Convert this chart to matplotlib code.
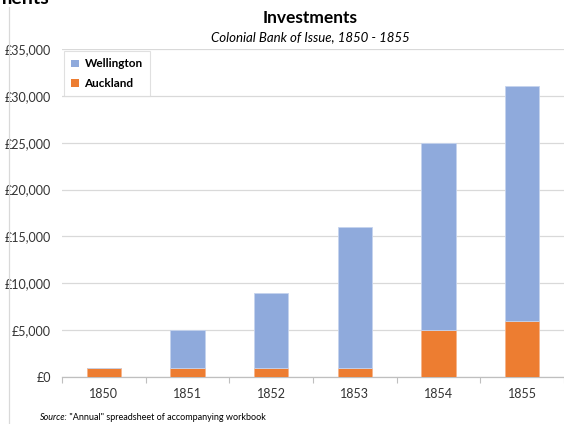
import numpy as np
import matplotlib
matplotlib.use("Agg")
import matplotlib.pyplot as plt
from matplotlib.patches import Patch
from matplotlib.ticker import FuncFormatter, MultipleLocator
from matplotlib.lines import Line2D

YEARS = ["1850", "1851", "1852", "1853", "1854", "1855"]
AUCKLAND = [1000, 1000, 1000, 1000, 5000, 6000]
WELLINGTON = [0, 4000, 8000, 15000, 20000, 25000]

COLOR_WEL = "#8FAADC"
COLOR_AUK = "#ED7D31"

plt.rcParams["font.family"] = ["Lato", "DejaVu Sans"]

W, H = 564, 424
fig = plt.figure(figsize=(W / 100, H / 100), dpi=100)

left, right, bottom, top = 62, 564, 377, 49
ax = fig.add_axes([left / W, (H - bottom) / H, (right - left) / W, (bottom - top) / H])

x = np.arange(len(YEARS))
bw = 0.41
ax.bar(x, AUCKLAND, bw, color=COLOR_AUK, edgecolor="#F6B48A", linewidth=0.6, zorder=3)
ax.bar(x, WELLINGTON, bw, bottom=AUCKLAND, color=COLOR_WEL, edgecolor="#C5D3EE",
       linewidth=0.6, zorder=3)

ax.set_xlim(-0.5, -0.5 + (right - left) / 84.8)
ax.set_ylim(0, 35000)
ax.yaxis.set_major_locator(MultipleLocator(5000))
ax.yaxis.set_major_formatter(FuncFormatter(lambda v, p: "£{:,.0f}".format(v)))
ax.grid(axis="y", color="#D9D9D9", linewidth=0.9, zorder=0)

ax.set_xticks(x)
ax.set_xticklabels(YEARS)
ax.set_xticks(np.arange(-0.5, 6, 1), minor=True)
ax.tick_params(axis="x", which="major", length=0, pad=8, labelsize=9, colors="#333333")
ax.tick_params(axis="x", which="minor", length=4, color="#BFBFBF", width=0.8)
ax.tick_params(axis="y", length=0, pad=8, labelsize=9, colors="#333333")
for s in ["top", "right", "left"]:
    ax.spines[s].set_visible(False)
ax.spines["bottom"].set_color("#BFBFBF")
ax.spines["bottom"].set_linewidth(0.9)

handles = [Patch(facecolor=COLOR_WEL, label="Wellington"),
           Patch(facecolor=COLOR_AUK, label="Auckland")]
leg = ax.legend(handles=handles, loc="upper left", bbox_to_anchor=(0.0, 1.0),
                frameon=True, fancybox=False, fontsize=8.5, handlelength=0.6,
                handleheight=0.6, handletextpad=0.5, labelspacing=0.75,
                borderpad=0.6, borderaxespad=0.2)
leg.get_frame().set_edgecolor("#D9D9D9")
leg.get_frame().set_linewidth(0.8)
for t in leg.get_texts():
    t.set_fontweight("bold")

cx = (left + right) / 2 / W
fig.text(cx - 0.005, 1 - 18 / H, "Investments", ha="center", va="center",
         fontsize=12.5, fontweight="bold")
fig.text(cx - 0.005, 1 - 37 / H, "Colonial Bank of Issue, 1850 - 1855", ha="center",
         va="center", fontsize=9.5, style="italic")

fig.text(40 / W, 1 - 417 / H, "Source:", ha="left", va="center", fontsize=6.5,
         style="italic")
fig.text(67 / W, 1 - 417 / H, ' "Annual" spreadsheet of accompanying workbook',
         ha="left", va="center", fontsize=6.5)

# cropped heading at top-left and frame edge
fig.text(-4 / W, 1 + 2 / H, "ments", ha="left", va="center", fontsize=14,
         fontweight="bold")
fig.add_artist(Line2D([9 / W, 9 / W], [0, 1 - 7 / H], transform=fig.transFigure,
                      color="#D9D9D9", linewidth=0.9))

fig.savefig("out.png", dpi=100)
